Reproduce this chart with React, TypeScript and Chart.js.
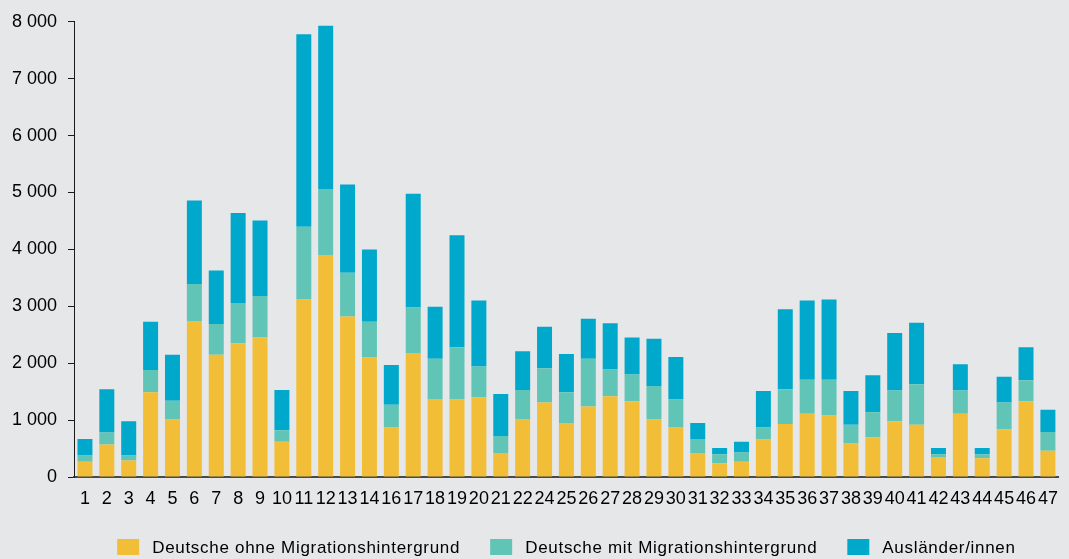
import React, { useEffect, useRef } from "react";
import { Chart, registerables } from "chart.js";

Chart.register(...registerables);

const categories = [
  "1", "2", "3", "4", "5", "6", "7", "8", "9", "10", "11", "12", "13", "14",
  "16", "17", "18", "19", "20", "21", "22", "24", "25", "26", "27", "28", "29",
  "30", "31", "32", "33", "34", "35", "36", "37", "38", "39", "40", "41", "42",
  "43", "44", "45", "46", "47",
];

const seriesNames = [
  "Deutsche ohne Migrationshintergrund",
  "Deutsche mit Migrationshintergrund",
  "Ausländer/innen",
];

const deutscheOhne = [
  270, 570, 290, 1490, 1010, 2740, 2150, 2350, 2450, 620, 3120, 3900, 2820, 2100,
  870, 2180, 1370, 1360, 1400, 420, 1020, 1310, 950, 1240, 1420, 1330, 1010,
  870, 420, 240, 270, 660, 930, 1110, 1080, 590, 700, 980, 920, 350,
  1110, 330, 840, 1330, 460,
];

const deutscheMit = [
  110, 210, 90, 390, 330, 650, 540, 710, 730, 200, 1280, 1160, 770, 630,
  400, 800, 710, 920, 540, 300, 510, 600, 540, 840, 470, 470, 590,
  490, 250, 160, 160, 210, 610, 600, 630, 330, 440, 540, 710, 50,
  410, 70, 470, 370, 330,
];

const auslaender = [
  290, 760, 600, 850, 810, 1470, 940, 1580, 1330, 710, 3380, 2870, 1550, 1270,
  700, 2000, 910, 1970, 1160, 740, 680, 730, 670, 700, 810, 650, 830,
  750, 280, 110, 190, 640, 1410, 1390, 1410, 590, 650, 1010, 1080, 110,
  460, 110, 450, 580, 390,
];

const yTickValues = [0, 1000, 2000, 3000, 4000, 5000, 6000, 7000, 8000];

const colors = ["#f2be38", "#60c5b6", "#00a8cc"];
const BG = "#e6e7e8";
const FONT = '"Liberation Sans", Arial, Helvetica, sans-serif';

function formatThousands(v: number): string {
  const s = String(Math.round(v));
  return s.replace(/\B(?=(\d{3})+(?!\d))/g, " ");
}

const legendPlugin = {
  id: "customLegend",
  afterDraw(chart: any) {
    const ctx = chart.ctx as CanvasRenderingContext2D;
    const area = chart.chartArea;
    ctx.save();
    ctx.font = `17px ${FONT}`;
    (ctx as any).letterSpacing = "0.7px";
    const boxW = 22;
    const boxH = 16;
    const gap = 13;
    const spacing = 30;
    const widths = seriesNames.map((t) => boxW + gap + ctx.measureText(t).width);
    const total = widths.reduce((a, b) => a + b, 0) + spacing * (widths.length - 1);
    let x = (area.left + area.right) / 2 - total / 2;
    const cy = 547;
    seriesNames.forEach((name, i) => {
      ctx.fillStyle = colors[i];
      ctx.fillRect(x, cy - boxH / 2, boxW, boxH);
      ctx.fillStyle = "#000";
      ctx.textAlign = "left";
      ctx.textBaseline = "middle";
      ctx.fillText(name, x + boxW + gap, cy + 1);
      x += widths[i] + spacing;
    });
    ctx.restore();
  },
};

export default function App() {
  const ref = useRef<HTMLCanvasElement | null>(null);

  useEffect(() => {
    document.body.style.margin = "0";
    document.body.style.background = BG;
    const canvas = ref.current;
    if (!canvas) return;
    const chart = new Chart(canvas, {
      type: "bar",
      data: {
        labels: categories,
        datasets: [
          { label: seriesNames[0], data: deutscheOhne, backgroundColor: colors[0] },
          { label: seriesNames[1], data: deutscheMit, backgroundColor: colors[1] },
          { label: seriesNames[2], data: auslaender, backgroundColor: colors[2] },
        ],
      },
      options: {
        responsive: false,
        animation: false,
        devicePixelRatio: 1,
        layout: { padding: { left: 0, right: 8, top: 21, bottom: 42 } },
        datasets: {
          bar: { categoryPercentage: 0.685, barPercentage: 1, borderWidth: 0 },
        },
        plugins: {
          legend: { display: false },
          tooltip: { enabled: false },
          title: { display: false },
        },
        scales: {
          x: {
            stacked: true,
            grid: { display: false, drawTicks: false },
            border: { display: true, color: "#4a4a4a", width: 2 },
            ticks: {
              color: "#000",
              font: { family: FONT, size: 18 },
              padding: 11,
              autoSkip: false,
              maxRotation: 0,
              minRotation: 0,
            },
            afterFit: (scale: any) => {
              scale.height = 40;
            },
          },
          y: {
            stacked: true,
            min: 0,
            max: 8000,
            afterBuildTicks: (scale: any) => {
              scale.ticks = yTickValues.map((v) => ({ value: v }));
            },
            grid: {
              drawOnChartArea: false,
              drawTicks: true,
              tickLength: 6,
              color: "#1a1a1a",
              lineWidth: 1,
            },
            border: { display: true, color: "#1a1a1a", width: 1 },
            ticks: {
              color: "#000",
              font: { family: FONT, size: 18 },
              padding: 11,
              callback: (v: any) => formatThousands(Number(v)),
            },
            afterFit: (scale: any) => {
              scale.width = 74;
            },
          },
        },
      },
      plugins: [legendPlugin],
    });
    return () => chart.destroy();
  }, []);

  return (
    <div style={{ width: 1069, height: 559, background: BG }}>
      <canvas ref={ref} width={1069} height={559} style={{ display: "block" }} />
    </div>
  );
}
